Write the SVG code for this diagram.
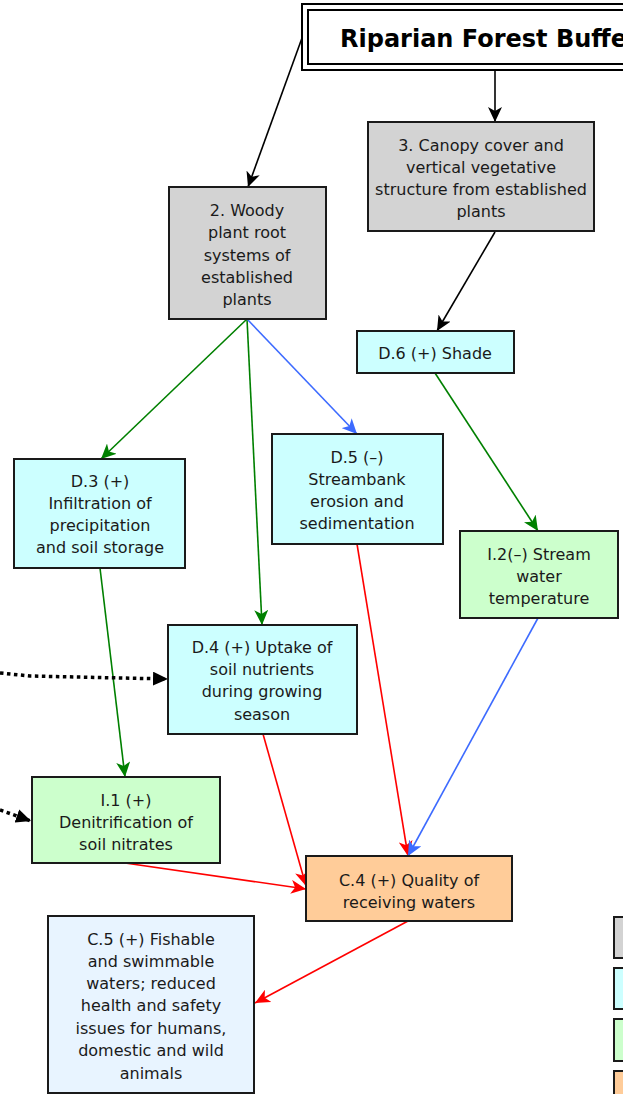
<svg xmlns="http://www.w3.org/2000/svg" width="623" height="1094" viewBox="0 0 623 1094">
<style>
.box{stroke:#1a1a1a;stroke-width:2}
.g{fill:#d3d3d3}.c{fill:#ccffff}.n{fill:#ccffcc}.o{fill:#ffcc99}.b{fill:#e8f4ff}
text{font-family:"DejaVu Sans",Verdana,sans-serif;font-size:16px;fill:#1a1a1a;text-anchor:middle}
.title{font-weight:bold;font-size:24px;text-anchor:start;fill:#000}
.ln{fill:none;stroke-width:1.6}
.k{stroke:#000}.gr{stroke:#008000}.bl{stroke:#3d6bff}.rd{stroke:#ff0000}
.dot{fill:none;stroke:#000;stroke-width:3.5;stroke-dasharray:3.5 3.5}
</style>
<defs>
<marker id="ak" markerUnits="userSpaceOnUse" markerWidth="16" markerHeight="14" refX="15" refY="7" orient="auto"><path d="M0,0 L15,7 L0,14 L4,7 z" fill="#000"/></marker>
<marker id="ag" markerUnits="userSpaceOnUse" markerWidth="16" markerHeight="14" refX="15" refY="7" orient="auto"><path d="M0,0 L15,7 L0,14 L4,7 z" fill="#008000"/></marker>
<marker id="ab" markerUnits="userSpaceOnUse" markerWidth="16" markerHeight="14" refX="15" refY="7" orient="auto"><path d="M0,0 L15,7 L0,14 L4,7 z" fill="#3d6bff"/></marker>
<marker id="ar" markerUnits="userSpaceOnUse" markerWidth="16" markerHeight="14" refX="15" refY="7" orient="auto"><path d="M0,0 L15,7 L0,14 L4,7 z" fill="#ff0000"/></marker>
<marker id="at" markerUnits="userSpaceOnUse" markerWidth="16" markerHeight="14" refX="15" refY="7" orient="auto"><path d="M0,0 L15,7 L0,14 z" fill="#000"/></marker>
</defs>
<rect width="623" height="1094" fill="#fff"/>
<g id="connectors">
<line class="ln k" x1="302" y1="38" x2="248" y2="187" marker-end="url(#ak)"/>
<line class="ln k" x1="495" y1="70" x2="495" y2="122" marker-end="url(#ak)"/>
<line class="ln k" x1="495" y1="232" x2="437" y2="331" marker-end="url(#ak)"/>
<line class="ln gr" x1="247" y1="319" x2="101" y2="459" marker-end="url(#ag)"/>
<line class="ln gr" x1="247" y1="319" x2="262" y2="625" marker-end="url(#ag)"/>
<line class="ln bl" x1="247" y1="319" x2="357" y2="434" marker-end="url(#ab)"/>
<line class="ln gr" x1="435" y1="373" x2="538" y2="531" marker-end="url(#ag)"/>
<line class="ln gr" x1="100" y1="568" x2="125" y2="777" marker-end="url(#ag)"/>
<line class="ln rd" x1="357" y1="544" x2="408" y2="856" marker-end="url(#ar)"/>
<line class="ln bl" x1="538" y1="618" x2="408" y2="856" marker-end="url(#ab)"/>
<line class="ln rd" x1="263" y1="734" x2="306" y2="886" marker-end="url(#ar)"/>
<line class="ln rd" x1="125" y1="863" x2="306" y2="889" marker-end="url(#ar)"/>
<line class="ln rd" x1="408" y1="921" x2="255" y2="1003" marker-end="url(#ar)"/>
<path class="dot" d="M0,673 L30,676 L168,679" marker-end="url(#at)"/>
<path class="dot" d="M0,810 L31,821" marker-end="url(#at)"/>
</g>
<g id="title">
<rect x="302" y="4" width="340" height="66" fill="#fff" stroke="#000" stroke-width="2"/>
<rect x="308" y="10" width="330" height="54" fill="none" stroke="#000" stroke-width="2"/>
<text class="title" x="340" y="47">Riparian Forest Buffers</text>
</g>
<g id="n3">
<rect class="box g" x="368" y="122" width="226" height="109"/>
<text x="481" y="151">3. Canopy cover and</text>
<text x="481" y="173">vertical vegetative</text>
<text x="481" y="195">structure from established</text>
<text x="481" y="217">plants</text>
</g>
<g id="n2">
<rect class="box g" x="169" y="187" width="157" height="132"/>
<text x="247" y="216">2. Woody</text>
<text x="247" y="238">plant root</text>
<text x="247" y="261">systems of</text>
<text x="247" y="283">established</text>
<text x="247" y="305">plants</text>
</g>
<g id="d6">
<rect class="box c" x="357" y="331" width="157" height="42"/>
<text x="435" y="359">D.6 (+) Shade</text>
</g>
<g id="d3">
<rect class="box c" x="14" y="459" width="171" height="109"/>
<text x="100" y="487">D.3 (+)</text>
<text x="100" y="509">Infiltration of</text>
<text x="100" y="531">precipitation</text>
<text x="100" y="553">and soil storage</text>
</g>
<g id="d5">
<rect class="box c" x="272" y="434" width="171" height="110"/>
<text x="357" y="463">D.5 (–)</text>
<text x="357" y="485">Streambank</text>
<text x="357" y="507">erosion and</text>
<text x="357" y="529">sedimentation</text>
</g>
<g id="i2">
<rect class="box n" x="460" y="531" width="158" height="87"/>
<text x="539" y="560">I.2(–) Stream</text>
<text x="539" y="582">water</text>
<text x="539" y="604">temperature</text>
</g>
<g id="d4">
<rect class="box c" x="168" y="625" width="189" height="109"/>
<text x="262" y="653">D.4 (+) Uptake of</text>
<text x="262" y="675">soil nutrients</text>
<text x="262" y="697">during growing</text>
<text x="262" y="720">season</text>
</g>
<g id="i1">
<rect class="box n" x="32" y="777" width="188" height="86"/>
<text x="126" y="806">I.1 (+)</text>
<text x="126" y="828">Denitrification of</text>
<text x="126" y="850">soil nitrates</text>
</g>
<g id="c4">
<rect class="box o" x="306" y="856" width="206" height="65"/>
<text x="409" y="886">C.4 (+) Quality of</text>
<text x="409" y="908">receiving waters</text>
</g>
<g id="c5">
<rect class="box b" x="48" y="916" width="206" height="177"/>
<text x="151" y="945">C.5 (+) Fishable</text>
<text x="151" y="967">and swimmable</text>
<text x="151" y="989">waters; reduced</text>
<text x="151" y="1011">health and safety</text>
<text x="151" y="1034">issues for humans,</text>
<text x="151" y="1056">domestic and wild</text>
<text x="151" y="1079">animals</text>
</g>
<g id="legend">
<rect class="box g" x="614" y="917" width="20" height="41" stroke="#333"/>
<rect class="box c" x="614" y="968" width="20" height="41" stroke="#333"/>
<rect class="box n" x="614" y="1019" width="20" height="42" stroke="#333"/>
<rect class="box o" x="614" y="1071" width="20" height="30" stroke="#333"/>
</g>
</svg>
